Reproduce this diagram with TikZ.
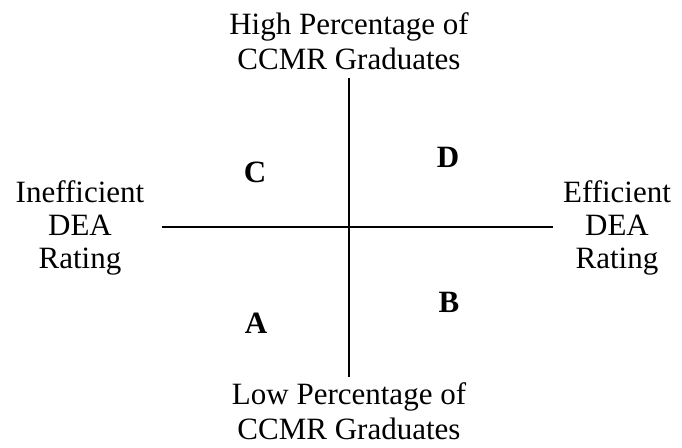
\documentclass[tikz,border=0pt]{standalone}
\usepackage{fontspec}
\setmainfont{Liberation Serif}
\usetikzlibrary{positioning}
\tikzstyle{axislabel} = [align=center, inner sep=0pt, font=\fontsize{31}{35}\selectfont]
\tikzstyle{sidelabel} = [align=center, inner sep=0pt, font=\fontsize{31}{33}\selectfont]
\tikzstyle{quadrant} = [inner sep=0pt, font=\fontsize{31}{36}\selectfont\bfseries]
\tikzstyle{axis} = [line width=2pt, -]

\begin{document}
\begin{tikzpicture}[x=1pt, y=-1pt]
        \useasboundingbox (0,0) rectangle (682,447);
        % \draw[help lines, step=50] (0,0) grid (682,447);
        \coordinate (top) at (349,78);
        \coordinate (bottom) at (349,377);
        \coordinate (left) at (162,227);
        \coordinate (right) at (553,227);

        \node (high) [axislabel] at (349,41) {High Percentage of\\ CCMR Graduates};
        \node (low) [axislabel] at (349,411) {Low Percentage of\\ CCMR Graduates};
        \node (ineff) [sidelabel] at (80,228) {Inefficient\\ DEA\\ Rating};
        \node (eff) [sidelabel] at (617,228) {Efficient\\ DEA\\ Rating};

        \node (C) [quadrant] at (255,172) {C};
        \node (D) [quadrant] at (448,157) {D};
        \node (B) [quadrant] at (449,302) {B};
        \node (A) [quadrant] at (256,323) {A};

        \draw [axis] (top) -- (bottom);
        \draw [axis] (left) -- (right);
    \end{tikzpicture}
\end{document}
